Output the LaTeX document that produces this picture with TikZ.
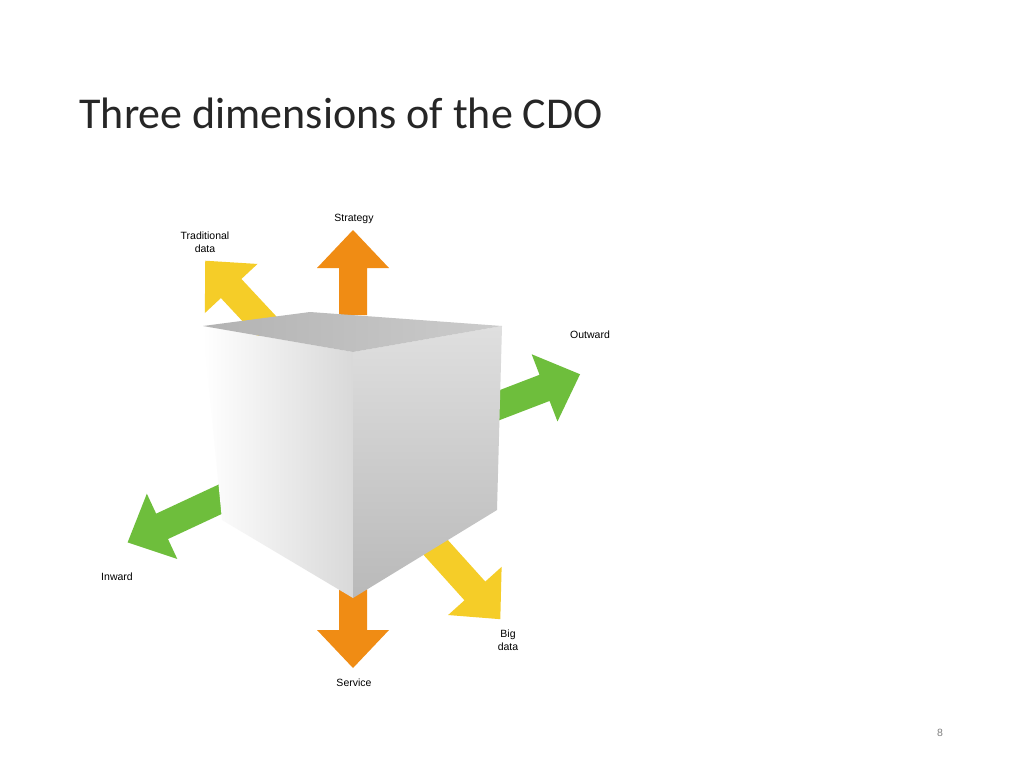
\documentclass[tikz,border=0pt]{standalone}
\usepackage{fontspec}
\setmainfont{Liberation Sans}
\newfontfamily\titlefont{Carlito}
\definecolor{arroworange}{RGB}{240,140,20}
\definecolor{arrowyellow}{RGB}{245,205,40}
\definecolor{arrowgreen}{RGB}{110,190,60}
\usetikzlibrary{positioning,calc}
% fat arrow: x, y (px), angle, length, colour
\newcommand{\fatarrow}[5]{%
  \begin{scope}[shift={(#1,#2)},x=1pt,y=1pt,rotate=#3]
    \fill[#5] (0,-14) -- (#4-38,-14) -- (#4-38,-36) -- (#4,0) -- (#4-38,36) -- (#4-38,14) -- (0,14) -- cycle;
  \end{scope}}
\tikzset{lbl/.style={font=\fontsize{10.5}{12.5}\selectfont, align=center}}
\begin{document}
\begin{tikzpicture}[x=1pt,y=-1pt]
  \useasboundingbox[fill=white] (0,0) rectangle (1024,768);
  \node[anchor=west, text=black!85, font=\titlefont\fontsize{44}{48}\selectfont] (title) at (76,113) {Three dimensions of the CDO};
  % arrows behind the cube
  \fatarrow{353}{315}{90}{85}{arroworange}
  \fatarrow{353}{585}{-90}{83}{arroworange}
  \fatarrow{268}{328}{133}{92}{arrowyellow}
  \fatarrow{440}{428}{21}{150}{arrowgreen}
  \fatarrow{240}{490}{205}{124}{arrowgreen}
  \fatarrow{420}{530}{-48}{120}{arrowyellow}
  % cube
  \shade[left color=white, right color=gray!30] (203,326) -- (353,352) -- (353,598) -- (222,520) -- cycle;
  \shade[top color=gray!25, bottom color=gray!55] (353,352) -- (502,326) -- (497,510) -- (353,598) -- cycle;
  \shade[left color=gray!60, right color=gray!40] (203,326) -- (310,312) -- (502,326) -- (353,352) -- cycle;
  % labels
  \node[lbl] (strategy) at (354,219) {Strategy};
  \node[lbl] (trad) at (205,242) {Traditional\\data};
  \node[lbl] (outward) at (590,335) {Outward};
  \node[lbl] (inward) at (117,577) {Inward};
  \node[lbl] (bigdata) at (508,640) {Big\\data};
  \node[lbl] (service) at (354,683) {Service};
  \node[lbl, text=gray] (page) at (940,733) {8};
\end{tikzpicture}
\end{document}
